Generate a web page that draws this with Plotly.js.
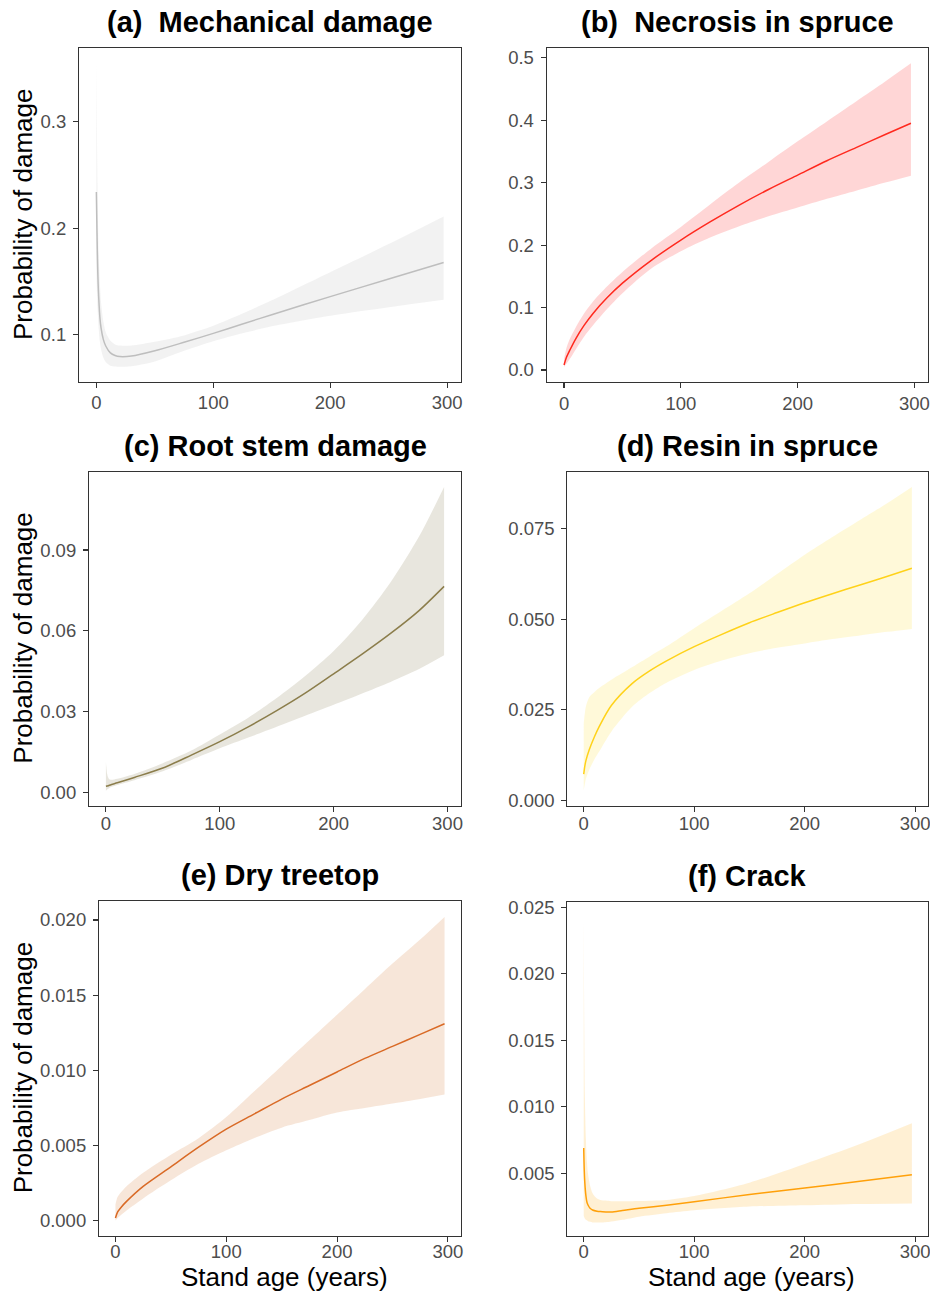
<!DOCTYPE html>
<html>
<head>
<meta charset="utf-8">
<script src="https://cdn.plot.ly/plotly-3.0.1.min.js"></script>
<style>html,body{margin:0;padding:0;background:#fff;}#chart{width:930px;height:1293px;}</style>
</head>
<body>
<div id="chart"></div>
<script>
// ---------- data ----------
const panelTitles = ["(a)\u00a0 Mechanical damage", "(b)\u00a0 Necrosis in spruce", "(c) Root stem damage",
                     "(d) Resin in spruce", "(e) Dry treetop", "(f) Crack"];
const yAxisTitle = "Probability of damage";
const xAxisTitle = "Stand age (years)";

// (a) Mechanical damage
const ageA = [0, 0.5, 1, 1.5, 2, 3, 4, 6, 8, 12, 16, 20, 30, 50, 75, 100, 125, 150, 200, 250, 297];
const fitA = [0.234, 0.198, 0.168, 0.148, 0.135, 0.116, 0.106, 0.095, 0.089, 0.0825, 0.0800, 0.0790, 0.0795, 0.0845, 0.0925, 0.1009, 0.1097, 0.1185, 0.1355, 0.1520, 0.1676];
const lowA = [0.160, 0.140, 0.125, 0.115, 0.105, 0.093, 0.086, 0.078, 0.074, 0.0705, 0.0697, 0.0694, 0.0700, 0.0745, 0.0845, 0.0935, 0.1010, 0.1075, 0.1175, 0.1255, 0.1326];
const uppA = [0.355, 0.290, 0.240, 0.200, 0.175, 0.148, 0.130, 0.112, 0.102, 0.094, 0.0905, 0.0895, 0.0895, 0.093, 0.0990, 0.1080, 0.1195, 0.1320, 0.1585, 0.1850, 0.2110];

// (b) Necrosis in spruce
const ageB = [0, 2, 5, 10, 17, 25, 37, 50, 75, 100, 125, 150, 175, 200, 225, 250, 275, 297];
const fitB = [0.008, 0.020, 0.032, 0.050, 0.071, 0.091, 0.116, 0.139, 0.176, 0.208, 0.237, 0.264, 0.289, 0.312, 0.335, 0.356, 0.377, 0.395];
const lowB = [0.0046, 0.010, 0.018, 0.033, 0.053, 0.072, 0.098, 0.123, 0.163, 0.190, 0.212, 0.230, 0.246, 0.260, 0.274, 0.287, 0.300, 0.311];
const uppB = [0.018, 0.035, 0.050, 0.068, 0.090, 0.110, 0.134, 0.157, 0.195, 0.229, 0.265, 0.300, 0.333, 0.366, 0.398, 0.430, 0.462, 0.491];

// (c) Root stem damage
const ageC = [0, 1, 2, 3, 5, 10, 25, 50, 75, 100, 125, 150, 175, 200, 225, 250, 275, 297];
const fitC = [0.0022, 0.0023, 0.0024, 0.0026, 0.0029, 0.0035, 0.0055, 0.0090, 0.0138, 0.0188, 0.0243, 0.0303, 0.0368, 0.0440, 0.0513, 0.0590, 0.0675, 0.0765];
const lowC = [0.0006, 0.0010, 0.0013, 0.0016, 0.0020, 0.0027, 0.0045, 0.0078, 0.0120, 0.0163, 0.0203, 0.0243, 0.0284, 0.0325, 0.0367, 0.0410, 0.0458, 0.0509];
const uppC = [0.0113, 0.0070, 0.0055, 0.0048, 0.0046, 0.0050, 0.0068, 0.0108, 0.0155, 0.0215, 0.0277, 0.0350, 0.0432, 0.0525, 0.0640, 0.0780, 0.0950, 0.1134];

// (d) Resin in spruce
const ageD = [0, 1, 2, 5, 10, 14, 25, 44, 60, 75, 100, 125, 150, 175, 200, 225, 250, 275, 297];
const fitD = [0.0073, 0.0095, 0.0110, 0.0140, 0.0178, 0.0204, 0.0262, 0.0323, 0.0358, 0.0385, 0.0424, 0.0458, 0.0490, 0.0518, 0.0545, 0.0570, 0.0594, 0.0618, 0.0640];
const lowD = [0.0028, 0.0045, 0.0060, 0.0085, 0.0115, 0.0135, 0.0190, 0.0259, 0.0297, 0.0325, 0.0360, 0.0386, 0.0406, 0.0421, 0.0433, 0.0445, 0.0455, 0.0465, 0.0473];
const uppD = [0.0213, 0.0240, 0.0260, 0.0285, 0.0300, 0.0310, 0.0333, 0.0368, 0.0398, 0.0425, 0.0475, 0.0523, 0.0571, 0.0624, 0.0677, 0.0726, 0.0773, 0.0820, 0.0864];

// (e) Dry treetop
const ageE = [0, 2, 5, 10, 25, 50, 75, 100, 125, 150, 175, 200, 225, 250, 275, 297];
const fitE = [0.0002, 0.0006, 0.0009, 0.0013, 0.0023, 0.0036, 0.0049, 0.0061, 0.0071, 0.0081, 0.0090, 0.0099, 0.0108, 0.0116, 0.0124, 0.0131];
const lowE = [0.00003, 0.0002, 0.0004, 0.0007, 0.0015, 0.0027, 0.0038, 0.0047, 0.0055, 0.0062, 0.0067, 0.0072, 0.0075, 0.0078, 0.0081, 0.0084];
const uppE = [0.0011, 0.0016, 0.0019, 0.0023, 0.0032, 0.0044, 0.0055, 0.0069, 0.0086, 0.0103, 0.0120, 0.0137, 0.0154, 0.0171, 0.0187, 0.0202];

// (f) Crack
const ageF = [0, 0.5, 1, 2, 3, 4, 6, 8, 12, 15, 20, 25, 35, 50, 75, 100, 150, 200, 250, 297];
const fitF = [0.0069, 0.0052, 0.0043, 0.0033, 0.0028, 0.0026, 0.00235, 0.00224, 0.00215, 0.00212, 0.0021, 0.00209, 0.0022, 0.00237, 0.0026, 0.00287, 0.0034, 0.0039, 0.0044, 0.0049];
const lowF = [0.0018, 0.0017, 0.0016, 0.0015, 0.00145, 0.0014, 0.00135, 0.0013, 0.0013, 0.0013, 0.00132, 0.00137, 0.0015, 0.00174, 0.0020, 0.00222, 0.0025, 0.0026, 0.0027, 0.00274];
const uppF = [0.0243, 0.0160, 0.0110, 0.0075, 0.0058, 0.0049, 0.0040, 0.0035, 0.0031, 0.0030, 0.00295, 0.0029, 0.0029, 0.00292, 0.0030, 0.0033, 0.0043, 0.0057, 0.0072, 0.00876];

// tick values / labels
const xTickVals = [0, 100, 200, 300];
const xTickText = ["0", "100", "200", "300"];
const yTickValsA = [0.1, 0.2, 0.3];                 const yTickTextA = ["0.1", "0.2", "0.3"];
const yTickValsB = [0, 0.1, 0.2, 0.3, 0.4, 0.5];   const yTickTextB = ["0.0", "0.1", "0.2", "0.3", "0.4", "0.5"];
const yTickValsC = [0, 0.03, 0.06, 0.09];          const yTickTextC = ["0.00", "0.03", "0.06", "0.09"];
const yTickValsD = [0, 0.025, 0.05, 0.075];        const yTickTextD = ["0.000", "0.025", "0.050", "0.075"];
const yTickValsE = [0, 0.005, 0.01, 0.015, 0.02];  const yTickTextE = ["0.000", "0.005", "0.010", "0.015", "0.020"];
const yTickValsF = [0.005, 0.01, 0.015, 0.02, 0.025]; const yTickTextF = ["0.005", "0.010", "0.015", "0.020", "0.025"];

// ---------- styling ----------
const W = 930, H = 1293;
const panels = [
  {age: ageA, fit: fitA, low: lowA, upp: uppA, line: "#bebebe", band: "rgba(190,190,190,0.2)",
   box: [79, 461, 48, 382], yr: [0.0551, 0.3696], tv: yTickValsA, tt: yTickTextA, xs: -1},
  {age: ageB, fit: fitB, low: lowB, upp: uppB, line: "#ff2a1f", band: "rgba(255,48,48,0.2)",
   box: [546.7, 928.3, 48.3, 382.3], yr: [-0.0197, 0.515], tv: yTickValsB, tt: yTickTextB, xs: -1},
  {age: ageC, fit: fitC, low: lowC, upp: uppC, line: "#8b7d4b", band: "rgba(139,131,90,0.2)",
   box: [89, 461, 471.7, 805.7], yr: [-0.005, 0.1191], tv: yTickValsC, tt: yTickTextC, xs: -4},
  {age: ageD, fit: fitD, low: lowD, upp: uppD, line: "#ffd21a", band: "rgba(255,215,0,0.15)",
   box: [567.3, 928.3, 471.7, 805.7], yr: [-0.0014, 0.0906], tv: yTickValsD, tt: yTickTextD, xs: -4},
  {age: ageE, fit: fitE, low: lowE, upp: uppE, line: "#d96a26", band: "rgba(210,105,30,0.17)",
   box: [99, 461, 901, 1235.7], yr: [-0.00098, 0.02126], tv: yTickValsE, tt: yTickTextE, xs: -6},
  {age: ageF, fit: fitF, low: lowF, upp: uppF, line: "#ffa00a", band: "rgba(255,165,0,0.17)",
   box: [567.3, 928.3, 901.7, 1235.7], yr: [0.00031, 0.02542], tv: yTickValsF, tt: yTickTextF, xs: -6}
];

const FONT = "Liberation Sans, Arial, Helvetica, sans-serif";
const data = [];
const layout = {
  width: W, height: H, margin: {l: 0, r: 0, t: 0, b: 0},
  paper_bgcolor: "#ffffff", plot_bgcolor: "#ffffff",
  showlegend: false, font: {family: FONT}, annotations: []
};

panels.forEach((p, i) => {
  const n = i + 1;
  const xa = n === 1 ? "x" : "x" + n, ya = n === 1 ? "y" : "y" + n;
  const shp = {shape: "spline", smoothing: 0.8};
  data.push({x: p.age, y: p.low, xaxis: xa, yaxis: ya, type: "scatter", mode: "lines",
             line: Object.assign({width: 0, color: p.band}, shp), hoverinfo: "skip"});
  data.push({x: p.age, y: p.upp, xaxis: xa, yaxis: ya, type: "scatter", mode: "lines",
             fill: "tonexty", fillcolor: p.band, line: Object.assign({width: 0, color: p.band}, shp), hoverinfo: "skip"});
  data.push({x: p.age, y: p.fit, xaxis: xa, yaxis: ya, type: "scatter", mode: "lines",
             line: Object.assign({width: 1.5, color: p.line}, shp)});
  const axCommon = {showline: true, linecolor: "#333333", linewidth: 1.1, mirror: true,
    ticks: "outside", ticklen: 5, tickwidth: 1.1, tickcolor: "#333333",
    showgrid: false, zeroline: false, tickmode: "array", ticklabeloverflow: "allow",
    tickfont: {family: FONT, size: 18.5, color: "#4d4d4d"}};
  layout[n === 1 ? "xaxis" : "xaxis" + n] = Object.assign({}, axCommon, {
    domain: [p.box[0] / W, p.box[1] / W], anchor: ya, ticklabelstandoff: p.xs,
    range: [-14.85, 311.85], tickvals: xTickVals, ticktext: xTickText});
  layout[n === 1 ? "yaxis" : "yaxis" + n] = Object.assign({}, axCommon, {
    domain: [1 - p.box[3] / H, 1 - p.box[2] / H], anchor: xa, ticklabelstandoff: 3,
    range: p.yr, tickvals: p.tv, ticktext: p.tt});
  // panel title
  layout.annotations.push({text: "<b>" + panelTitles[i] + "</b>", xref: "paper", yref: "paper",
    x: ((p.box[0] + p.box[1]) / 2) / W, y: 1 - (p.box[2] - 26) / H, xanchor: "center", yanchor: "middle",
    showarrow: false, font: {family: FONT, size: 29, color: "#000000"}});
  // y axis title on left column
  if (i % 2 === 0) {
    layout.annotations.push({text: yAxisTitle, xref: "paper", yref: "paper", textangle: -90,
      x: 23 / W, y: 1 - ((p.box[2] + p.box[3]) / 2) / H, xanchor: "center", yanchor: "middle",
      showarrow: false, font: {family: FONT, size: 26, color: "#000000"}});
  }
  // x axis title on bottom row
  if (i >= 4) {
    layout.annotations.push({text: xAxisTitle, xref: "paper", yref: "paper",
      x: ((p.box[0] + p.box[1]) / 2 + 4) / W, y: 1 - 1277 / H, xanchor: "center", yanchor: "middle",
      showarrow: false, font: {family: FONT, size: 26, color: "#000000"}});
  }
});

Plotly.newPlot("chart", data, layout, {displayModeBar: false, staticPlot: true});
</script>
</body>
</html>
